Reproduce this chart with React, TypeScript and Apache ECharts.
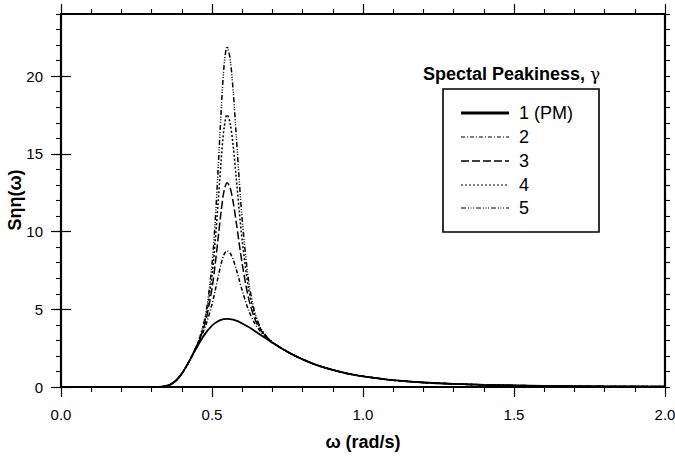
import React, { useEffect, useRef } from "react";
import * as echarts from "echarts";

const OMEGA = [0, 0.30, 0.32, 0.34, 0.36, 0.38, 0.40, 0.42, 0.44, 0.46, 0.48, 0.50, 0.51, 0.52, 0.53, 0.54, 0.55, 0.56, 0.57, 0.58, 0.59, 0.60, 0.62, 0.64, 0.66, 0.68, 0.70, 0.75, 0.80, 0.85, 0.90, 0.95, 1.0, 1.1, 1.2, 1.3, 1.4, 1.5, 1.6, 1.7, 1.8, 1.9, 2.0];

const S_PM = [0, 0, 0.004, 0.032, 0.14, 0.40, 0.86, 1.49, 2.21, 2.90, 3.50, 3.95, 4.11, 4.23, 4.32, 4.37, 4.38, 4.37, 4.33, 4.27, 4.19, 4.09, 3.87, 3.62, 3.36, 3.10, 2.84, 2.26, 1.78, 1.39, 1.10, 0.86, 0.69, 0.44, 0.29, 0.20, 0.14, 0.10, 0.072, 0.053, 0.040, 0.031, 0.024];
const S_G2 = [0, 0, 0.004, 0.032, 0.14, 0.40, 0.86, 1.49, 2.23, 3.04, 4.00, 5.32, 6.16, 7.06, 7.91, 8.53, 8.76, 8.61, 8.20, 7.60, 6.90, 6.21, 5.00, 4.14, 3.57, 3.17, 2.86, 2.26, 1.78, 1.39, 1.10, 0.86, 0.69, 0.44, 0.29, 0.20, 0.14, 0.10, 0.072, 0.053, 0.040, 0.031, 0.024];
const S_G3 = [0, 0, 0.004, 0.032, 0.14, 0.40, 0.86, 1.50, 2.25, 3.12, 4.32, 6.34, 7.80, 9.53, 11.27, 12.63, 13.14, 12.81, 11.91, 10.64, 9.25, 7.92, 5.80, 4.47, 3.69, 3.21, 2.88, 2.26, 1.78, 1.39, 1.10, 0.86, 0.69, 0.44, 0.29, 0.20, 0.14, 0.10, 0.072, 0.053, 0.040, 0.031, 0.024];
const S_G4 = [0, 0, 0.004, 0.032, 0.14, 0.40, 0.86, 1.50, 2.26, 3.18, 4.57, 7.17, 9.23, 11.78, 14.50, 16.67, 17.52, 16.98, 15.53, 13.52, 11.38, 9.41, 6.45, 4.73, 3.78, 3.24, 2.88, 2.26, 1.78, 1.39, 1.10, 0.86, 0.69, 0.44, 0.29, 0.20, 0.14, 0.10, 0.072, 0.053, 0.040, 0.031, 0.024];
const S_G5 = [0, 0, 0.004, 0.032, 0.14, 0.40, 0.86, 1.50, 2.27, 3.23, 4.77, 7.89, 10.51, 13.89, 17.62, 20.69, 21.90, 21.13, 19.07, 16.28, 13.37, 10.76, 7.00, 4.93, 3.85, 3.26, 2.89, 2.26, 1.78, 1.39, 1.10, 0.86, 0.69, 0.44, 0.29, 0.20, 0.14, 0.10, 0.072, 0.053, 0.040, 0.031, 0.024];

const SERIES_NAMES = ["1 (PM)", "2", "3", "4", "5"];
const X_TICKS = [0, 0.5, 1.0, 1.5, 2.0];
const Y_MAJOR = [0, 5, 10, 15, 20];

const FONT = "'Liberation Sans', Arial, Helvetica, sans-serif";

const STYLES = [
  { width: 1.8, dash: "solid" as any, legendWidth: 3.2 },
  { width: 1.5, dash: [4, 2, 1, 2], legendWidth: 1 },
  { width: 1.5, dash: [8, 3], legendWidth: 1.3 },
  { width: 1.5, dash: [2, 2], legendWidth: 1 },
  { width: 1.5, dash: [5, 2, 1, 1.5, 1, 1.5, 1, 2], legendWidth: 1 },
];

export default function App() {
  const ref = useRef<HTMLDivElement>(null);
  useEffect(() => {
    if (!ref.current) return;
    const chart = echarts.init(ref.current, undefined, { renderer: "svg" });
    const all = [S_PM, S_G2, S_G3, S_G4, S_G5];

    const xBase = (pos: "bottom" | "top", labels: boolean) => ({
      type: "value",
      position: pos,
      min: 0,
      max: 2,
      interval: 0.5,
      axisLine: { show: true, onZero: false, lineStyle: { color: "#000", width: 2.2 } },
      axisTick: { show: true, length: 10, lineStyle: { color: "#000", width: 1.2 } },
      minorTick: { show: true, splitNumber: 5, length: 5, lineStyle: { color: "#000", width: 1.1 } },
      splitLine: { show: false },
      minorSplitLine: { show: false },
      axisLabel: {
        show: labels,
        margin: 20,
        color: "#000",
        fontFamily: FONT,
        fontSize: 15,
        formatter: (v: number) => v.toFixed(1),
        customValues: X_TICKS,
      },
    });

    const yMinor = (pos: "left" | "right", labels: boolean) => ({
      type: "value",
      position: pos,
      min: 0,
      max: 24,
      interval: 1,
      axisLine: { show: true, onZero: false, lineStyle: { color: "#000", width: 2.2 } },
      axisTick: { show: true, length: 5, lineStyle: { color: "#000", width: 1.1 } },
      splitLine: { show: false },
      axisLabel: {
        show: labels,
        margin: 18,
        color: "#000",
        fontFamily: FONT,
        fontSize: 15,
        customValues: Y_MAJOR,
        formatter: (v: number) => String(v),
      },
    });

    const yMajor = (pos: "left" | "right") => ({
      type: "value",
      position: pos,
      min: 0,
      max: 24,
      interval: 1,
      axisLine: { show: false },
      axisTick: { show: true, length: 10, customValues: Y_MAJOR, lineStyle: { color: "#000", width: 1.2 } },
      splitLine: { show: false },
      axisLabel: { show: false },
    });

    const legendX = 443, legendY = 89, legendW = 156, legendH = 143;
    const rowY = [113, 137, 161, 185, 208];
    const graphics: any[] = [
      {
        type: "text",
        x: 15,
        y: 200,
        rotation: Math.PI / 2,
        style: {
          text: "Sηη(ω)",
          fontFamily: FONT,
          fontWeight: "bold",
          fontSize: 18,
          fill: "#000",
          align: "center",
          verticalAlign: "middle",
          textAlign: "center",
          textVerticalAlign: "middle",
        },
      },
      {
        type: "text",
        left: 423,
        top: 65,
        style: {
          text: "{b|Spectal Peakiness, }{g|γ}",
          rich: {
            b: { fontFamily: FONT, fontWeight: "bold", fontSize: 18, fill: "#000" },
            g: { fontFamily: "'DejaVu Serif', serif", fontSize: 17, fill: "#000" },
          },
        },
      },
      {
        type: "rect",
        shape: { x: legendX, y: legendY, width: legendW, height: legendH },
        style: { fill: "#fff", stroke: "#000", lineWidth: 1.6 },
        z: 10,
      },
    ];
    SERIES_NAMES.forEach((name, i) => {
      graphics.push({
        type: "line",
        shape: { x1: 461, y1: rowY[i], x2: 509, y2: rowY[i] },
        style: {
          stroke: "#000",
          lineWidth: STYLES[i].legendWidth,
          lineDash: i === 0 ? null : STYLES[i].dash,
        },
        z: 11,
      });
      graphics.push({
        type: "text",
        x: 519,
        y: rowY[i],
        style: {
          text: name,
          fontFamily: FONT,
          fontSize: 18,
          fill: "#000",
          textVerticalAlign: "middle",
          verticalAlign: "middle",
        },
        z: 11,
      });
    });

    chart.setOption({
      animation: false,
      backgroundColor: "#fff",
      grid: { left: 61, right: 10, top: 14, bottom: 70, containLabel: false, outerBoundsMode: "none" },
      xAxis: [
        {
          ...xBase("bottom", true),
          name: "ω (rad/s)",
          nameLocation: "middle",
          nameGap: 46,
          nameTextStyle: { fontFamily: FONT, fontWeight: "bold", fontSize: 18, color: "#000" },
        },
        xBase("top", false),
      ],
      yAxis: [
        yMinor("left", true),
        yMajor("left"),
        yMinor("right", false),
        yMajor("right"),
      ],
      series: all.map((vals, i) => ({
        name: SERIES_NAMES[i],
        type: "line",
        xAxisIndex: 0,
        yAxisIndex: 0,
        showSymbol: false,
        smooth: 0.3,
        data: OMEGA.map((w, k) => [w, vals[k]]),
        lineStyle: { color: "#000", width: STYLES[i].width, type: STYLES[i].dash },
        z: 5 - i,
      })),
      graphic: graphics,
    });
    return () => chart.dispose();
  }, []);
  return (
    <div
      ref={ref}
      style={{ position: "fixed", left: 0, top: 0, width: 675, height: 457, background: "#fff" }}
    />
  );
}
